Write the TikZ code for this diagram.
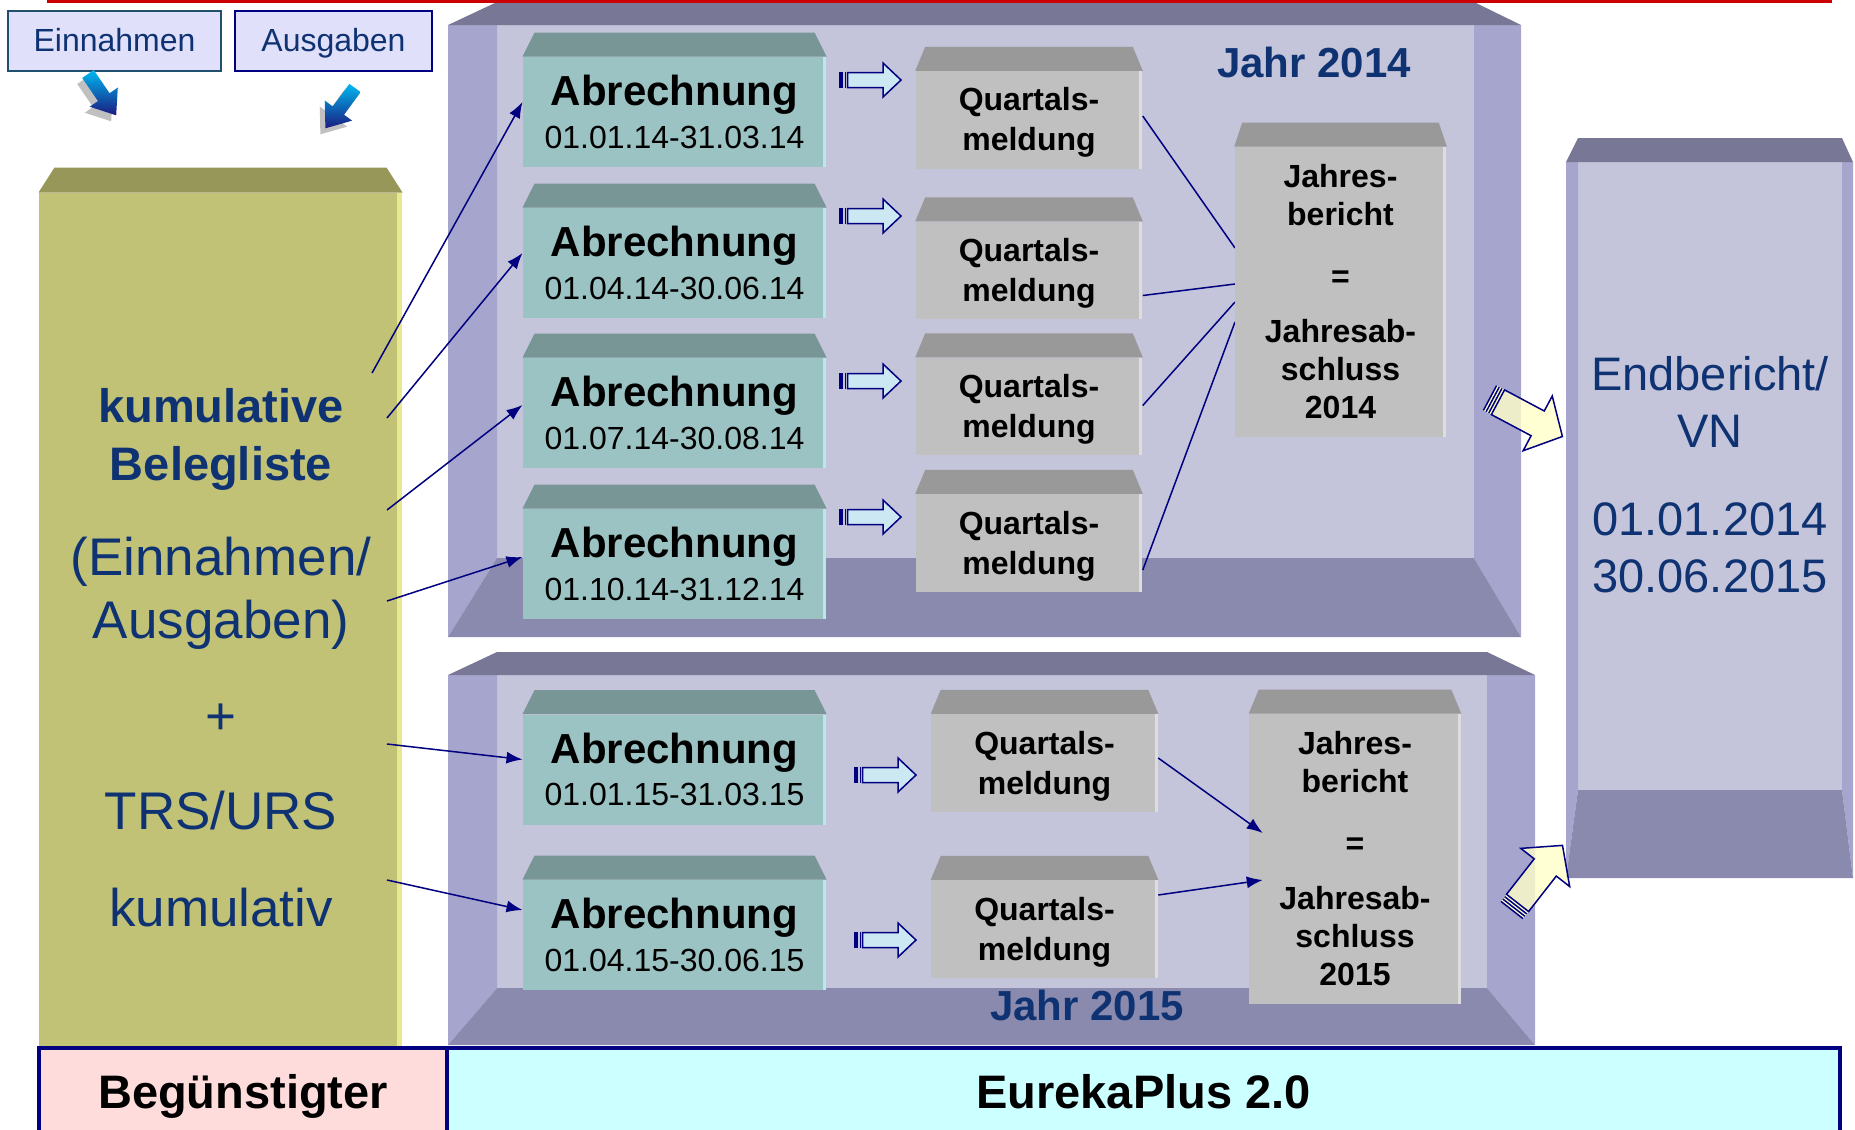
\documentclass[tikz,border=0pt]{standalone}
\usepackage{fontspec}
\setmainfont{Liberation Sans}
\usetikzlibrary{calc,arrows.meta}

\definecolor{redline}{HTML}{CC0000}
\definecolor{linkblue}{HTML}{000080}
\definecolor{txtblue}{HTML}{0F3372}
\definecolor{frametop}{HTML}{787896}
\definecolor{framewall}{HTML}{A5A5CD}
\definecolor{frameback}{HTML}{C4C4DA}
\definecolor{framefloor}{HTML}{8A8AAE}
\definecolor{abtop}{HTML}{789695}
\definecolor{abfront}{HTML}{9CC3C3}
\definecolor{abedge}{HTML}{B8E8E8}
\definecolor{qtop}{HTML}{999999}
\definecolor{qfront}{HTML}{C0C0C0}
\definecolor{qedge}{HTML}{DDDDDD}
\definecolor{olivetop}{HTML}{979759}
\definecolor{olivefront}{HTML}{C2C277}
\definecolor{oliveedge}{HTML}{E8E890}
\definecolor{inboxfill}{HTML}{E0E0FA}
\definecolor{einborder}{HTML}{21506E}
\definecolor{hollow}{HTML}{CCE8F2}
\definecolor{yellowarrow}{HTML}{FFFFC8}
\definecolor{fallcyan}{HTML}{00B8F0}
\definecolor{fallnavy}{HTML}{1A1A80}
\definecolor{cellpink}{HTML}{FFDCDC}
\definecolor{cellcyan}{HTML}{CCFFFF}

\newcommand{\abfont}{\fontsize{16.8}{20}\selectfont\bfseries}
\newcommand{\quartal}{\rule{0pt}{11.5pt}Quartals-\\meldung}

% open 3d frame: outer left, inner left, inner right, outer right, top, face bottom, floor top, bottom
\newcommand{\jahrframe}[8]{%
  \fill[frameback] (#2,#6) rectangle (#3,#7);
  \fill[framewall] (#1,#6) -- (#2,#6) -- (#2,#7) -- (#1,#8) -- cycle;
  \fill[framewall] (#4,#6) -- (#3,#6) -- (#3,#7) -- (#4,#8) -- cycle;
  \fill[framefloor] (#2,#7) -- (#3,#7) -- (#4,#8) -- (#1,#8) -- cycle;
  \fill[frametop] (#1,#6) -- (#2,#5) -- (#3,#5) -- (#4,#6) -- cycle;
}
% top face of a box node: node, colour, inset, height
\newcommand{\topface}[4]{%
  \fill[#2] (#1.north west) -- ($(#1.north west)+(#3,-#4)$)
    -- ($(#1.north east)+(-#3,-#4)$) -- (#1.north east) -- cycle;
}
\newcommand{\hollowarrow}[2]{%
  \begin{scope}[shift={(#1,#2)}]
    \fill[linkblue] (0,-8) rectangle (4,8);
    \fill[linkblue] (5.5,-8) rectangle (7,8);
    \draw[linkblue, fill=hollow, line width=0.6pt] (8.5,-7.5) -- (44,-7.5) -- (44,-17)
      -- (62,0) -- (44,17) -- (44,7.5) -- (8.5,7.5) -- cycle;
  \end{scope}
}
\newcommand{\fallarrow}[3]{%
  \begin{scope}[shift={(#1-5,#2+6)}, rotate=#3]
    \fill[black!55, opacity=.45] (0,-7) -- (28,-7) -- (28,-17) -- (50,0) -- (28,17) -- (28,7) -- (0,7) -- cycle;
  \end{scope}
  \begin{scope}[shift={(#1,#2)}, rotate=#3]
    \shade[top color=fallcyan, bottom color=fallnavy] (0,-7) -- (28,-7) -- (28,-17) -- (50,0)
      -- (28,17) -- (28,7) -- (0,7) -- cycle;
  \end{scope}
}
\newcommand{\yellowarrow}[3]{%
  \begin{scope}[shift={(#1,#2)}, rotate=#3]
    \fill[yellowarrow] (0,-14) rectangle (9,14);
    \draw[linkblue, line width=0.6pt] (0,-14) -- (0,14) (3,-14) -- (3,14) (6,-14) -- (6,14);
    \draw[linkblue, fill=yellowarrow, fill opacity=.8, line width=0.6pt] (9,-14) -- (54,-14) -- (54,-31)
      -- (82,0) -- (54,31) -- (54,14) -- (9,14) -- cycle;
  \end{scope}
}

\tikzset{
  inbox/.style={rectangle, fill=inboxfill, draw=einborder, line width=0.8pt, inner sep=0pt,
    minimum height=24pt, text height=9.2pt, text depth=0.6pt, text=txtblue,
    font=\fontsize{12.8}{15}\selectfont},
  abbox/.style={rectangle, fill=abfront, minimum width=121.2pt, minimum height=44pt, inner sep=0pt,
    align=center, font=\fontsize{12.8}{17}\selectfont,
    path picture={\fill[abedge] ([xshift=-1.2pt]path picture bounding box.north east)
      rectangle (path picture bounding box.south east);}},
  qbox/.style={rectangle, fill=qfront, minimum width=90.6pt, minimum height=39pt, inner sep=0pt,
    align=center, font=\fontsize{12.8}{16}\selectfont\bfseries,
    path picture={\fill[qedge] ([xshift=-1.2pt]path picture bounding box.north east)
      rectangle (path picture bounding box.south east);}},
  jbbox/.style={qbox, minimum width=84.6pt, minimum height=116pt,
    font=\fontsize{12.8}{15.2}\selectfont\bfseries},
  oliveline/.style={anchor=base, text=txtblue, font=\fontsize{21.2}{24}\selectfont},
  olivebold/.style={oliveline, font=\fontsize{18.8}{22}\selectfont\bfseries},
  endtext/.style={anchor=base, text=txtblue, font=\fontsize{18.8}{22}\selectfont},
  jahrtext/.style={anchor=base, text=txtblue, font=\fontsize{16.8}{20}\selectfont\bfseries},
  link/.style={draw=linkblue, line width=0.6pt},
  linkarrow/.style={link, -{Latex[length=6.4pt,width=4.8pt]}},
  cell/.style={rectangle, draw=linkblue, line width=1.6pt, inner sep=0pt, minimum height=38.4pt,
    text height=13.6pt, text depth=4pt, font=\fontsize{18.8}{22}\selectfont\bfseries},
}

\begin{document}
\begin{tikzpicture}[x=0.4pt,y=-0.4pt]
  \useasboundingbox (0,0) rectangle (1855,1129);

  % Jahr 2014, Jahr 2015, Endbericht
  \jahrframe{448}{497}{1474}{1521}{2}{25}{558}{637}
  \jahrframe{448}{497}{1487}{1535}{652}{675}{988}{1045}
  \jahrframe{1566}{1578}{1842}{1853}{138}{162}{790}{878}

  % Beguenstigter column
  \node[fill=olivefront, minimum width=145.2pt, minimum height=343.6pt, inner sep=0pt,
    path picture={\fill[oliveedge] ([xshift=-2pt]path picture bounding box.north east)
      rectangle (path picture bounding box.south east);}] (belege) at (220.5,622.5) {};
  \topface{belege}{olivetop}{16}{25}
  \node[olivebold] (kum) at (221,422) {kumulative};
  \node[olivebold] (bel) at (221,480) {Belegliste};
  \node[oliveline] (ein2) at (221,575) {(Einnahmen/};
  \node[oliveline] (aus2) at (221,638) {Ausgaben)};
  \node[oliveline] (plus) at (221,734) {+};
  \node[oliveline] (trs) at (221,829) {TRS/URS};
  \node[oliveline] (kumv) at (221,926) {kumulativ};

  % inputs
  \node[inbox, minimum width=85.2pt] (ein) at (114.5,41) {Einnahmen};
  \node[inbox, draw=linkblue, minimum width=78.8pt] (aus) at (333.5,41) {Ausgaben};
  \fallarrow{88}{74}{-55.7}
  \fallarrow{355}{88}{-126.3}

  % Abrechnungen
  \node[abbox] (ab1) at (674.5,112) {{\abfont Abrechnung}\\01.01.14-31.03.14};
  \node[abbox] (ab2) at (674.5,263) {{\abfont Abrechnung}\\01.04.14-30.06.14};
  \node[abbox] (ab3) at (674.5,413) {{\abfont Abrechnung}\\01.07.14-30.08.14};
  \node[abbox] (ab4) at (674.5,564) {{\abfont Abrechnung}\\01.10.14-31.12.14};
  \node[abbox] (ab5) at (674.5,769.5) {{\abfont Abrechnung}\\01.01.15-31.03.15};
  \node[abbox] (ab6) at (674.5,935) {{\abfont Abrechnung}\\01.04.15-30.06.15};
  \topface{ab1}{abtop}{12}{24}
  \topface{ab2}{abtop}{12}{24}
  \topface{ab3}{abtop}{12}{24}
  \topface{ab4}{abtop}{12}{24}
  \topface{ab5}{abtop}{12}{24}
  \topface{ab6}{abtop}{12}{24}

  % Quartalsmeldungen
  \node[qbox] (q1) at (1029,120) {\quartal};
  \node[qbox] (q2) at (1029,270.5) {\quartal};
  \node[qbox] (q3) at (1029,406.5) {\quartal};
  \node[qbox] (q4) at (1029,543) {\quartal};
  \node[qbox] (q5) at (1044.5,763) {\quartal};
  \node[qbox] (q6) at (1044.5,929) {\quartal};
  \topface{q1}{qtop}{10}{24}
  \topface{q2}{qtop}{10}{24}
  \topface{q3}{qtop}{10}{24}
  \topface{q4}{qtop}{10}{24}
  \topface{q5}{qtop}{10}{24}
  \topface{q6}{qtop}{10}{24}

  % Jahresberichte
  \coordinate (j1) at (1235,248);
  \draw[link] ($(q1.east)+(0,-4)$) -- (j1);
  \draw[link] ($(q2.east)+(0,25)$) -- ($(j1)+(0,36)$);
  \draw[link] ($(q3.east)+(0,-1)$) -- ($(j1)+(0,54)$);
  \draw[link] ($(q4.east)+(0,27)$) -- ($(j1)+(0,74)$);
  \node[jbbox] (jb14) at (1340.5,292) {Jahres-\\bericht\\[9.6pt]=\\[6.8pt]Jahresab-\\schluss\\2014};
  \node[jbbox] (jb15) at (1355,859) {Jahres-\\bericht\\[9.6pt]=\\[6.8pt]Jahresab-\\schluss\\2015};
  \topface{jb14}{qtop}{8}{24}
  \topface{jb15}{qtop}{10}{24}
  \draw[linkarrow] ($(q5.east)+(0,-5)$) -- ($(jb15.west)+(14,-26)$);
  \draw[linkarrow] ($(q6.east)+(0,-34)$) -- ($(jb15.west)+(14,21)$);

  \hollowarrow{839}{80}
  \hollowarrow{839}{216}
  \hollowarrow{839}{381}
  \hollowarrow{839}{517}
  \hollowarrow{854}{775}
  \hollowarrow{854}{940}

  % Belegliste -> Abrechnung
  \coordinate (k1) at (372,373);
  \coordinate (k2) at (387,418);
  \coordinate (k3) at (387,510);
  \coordinate (k4) at (387,601);
  \coordinate (k5) at (387,744);
  \coordinate (k6) at (387,880);
  \draw[linkarrow] (k1) -- ($(ab1.west)+(0,-10)$);
  \draw[linkarrow] (k2) -- ($(ab2.west)+(0,-10)$);
  \draw[linkarrow] (k3) -- ($(ab3.west)+(0,-8)$);
  \draw[linkarrow] (k4) -- ($(ab4.west)+(0,-7)$);
  \draw[linkarrow] (k5) -- ($(ab5.west)+(0,-10)$);
  \draw[linkarrow] (k6) -- ($(ab6.west)+(0,-25)$);

  \node[jahrtext] (j14) at (1314,77) {Jahr 2014};
  \node[jahrtext] (j15) at (1087,1020) {Jahr 2015};

  % Endbericht
  \node[endtext] (eb1) at (1710,390) {Endbericht/};
  \node[endtext] (eb2) at (1710,447) {VN};
  \node[endtext] (eb3) at (1710,535) {01.01.2014};
  \node[endtext] (eb4) at (1710,592) {30.06.2015};
  \yellowarrow{1490}{398}{-28}
  \yellowarrow{1512}{910}{52}

  % bottom bar
  \node[cell, fill=cellpink, minimum width=163.2pt] (beg) at (243,1096) {Begünstigter};
  \node[cell, fill=cellcyan, minimum width=557.2pt] (eur) at (1143.5,1096) {EurekaPlus 2.0};

  \draw[redline, line width=1.2pt] (47,1) -- (1832,1);
\end{tikzpicture}
\end{document}
